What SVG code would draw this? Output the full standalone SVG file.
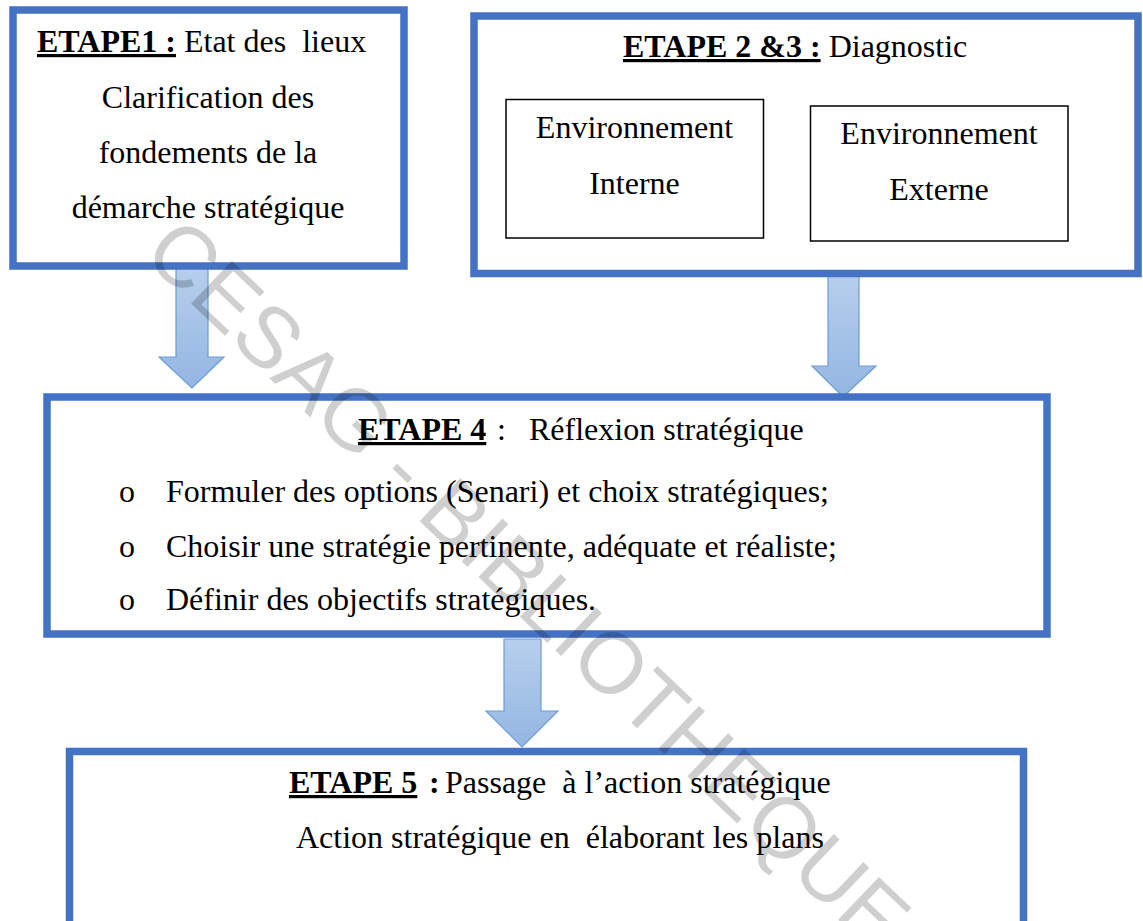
<svg xmlns="http://www.w3.org/2000/svg" width="1143" height="921" viewBox="0 0 1143 921">
<style>
.t{font-family:"Liberation Serif","Times New Roman",serif;font-size:32px;fill:#000;white-space:pre}
.b{font-weight:bold}
.u{text-decoration:underline}
.box{fill:#fff;stroke:#4472c4;stroke-width:7.5}
.inner{fill:#fff;stroke:#000;stroke-width:1.5}
.arrow{fill:url(#ag);stroke:#6c9cd6;stroke-width:1.2}
.wm{font-family:"Liberation Sans",Arial,sans-serif;font-size:86px;fill:#000;fill-opacity:0.19;white-space:pre}
</style>
<defs>
<linearGradient id="ag" x1="0" y1="0" x2="0" y2="1">
<stop offset="0" stop-color="#b7cfec"/>
<stop offset="1" stop-color="#93b6e2"/>
</linearGradient>
</defs>
<rect width="1143" height="921" fill="#fff"/>
<g id="connectors">
<path class="arrow" d="M176,268 L208,268 L208,357 L224,357 L192,388 L159,357 L176,357 Z"/>
<path class="arrow" d="M828,274 L859,274 L859,366 L876,366 L843,397 L812,366 L828,366 Z"/>
<path class="arrow" d="M504,639 L541,639 L541,711 L558,711 L522,747 L486,711 L504,711 Z"/>
</g>
<g id="etape1">
<rect class="box" x="13" y="10" width="391" height="256"/>
<text class="t" x="37" y="52"><tspan class="b u">ETAPE1 :</tspan> Etat des  lieux</text>
<text class="t" x="208" y="108" text-anchor="middle">Clarification des</text>
<text class="t" x="208" y="163" text-anchor="middle">fondements de la</text>
<text class="t" x="208" y="218" text-anchor="middle">démarche stratégique</text>
</g>
<g id="etape23">
<rect class="box" x="474" y="16" width="664" height="257.5"/>
<text class="t" x="623" y="57"><tspan class="b u">ETAPE 2 &amp;3 :</tspan> Diagnostic</text>
</g>
<g id="env-interne">
<rect class="inner" x="506" y="99.5" width="257.5" height="138.5"/>
<text class="t" x="634.5" y="138" text-anchor="middle">Environnement</text>
<text class="t" x="634.5" y="194" text-anchor="middle">Interne</text>
</g>
<g id="env-externe">
<rect class="inner" x="810.5" y="106" width="257.5" height="135"/>
<text class="t" x="939" y="144" text-anchor="middle">Environnement</text>
<text class="t" x="939" y="200" text-anchor="middle">Externe</text>
</g>
<g id="etape4">
<rect class="box" x="47" y="397" width="1000" height="237"/>
<text class="t" y="440"><tspan class="b u" x="358">ETAPE 4</tspan><tspan x="497">:</tspan><tspan x="529">Réflexion stratégique</tspan></text>
<text class="t" x="119" y="502">o</text>
<text class="t" x="166" y="502">Formuler des options (Senari) et choix stratégiques;</text>
<text class="t" x="119" y="557">o</text>
<text class="t" x="166" y="557">Choisir une stratégie pertinente, adéquate et réaliste;</text>
<text class="t" x="119" y="610">o</text>
<text class="t" x="166" y="610">Définir des objectifs stratégiques.</text>
</g>
<g id="etape5">
<rect class="box" x="69.5" y="751.5" width="954" height="200"/>
<text class="t" y="793"><tspan class="b u" x="289">ETAPE 5</tspan><tspan class="b" x="429">:</tspan><tspan x="445">Passage  à l’action stratégique</tspan></text>
<text class="t" x="296" y="848">Action stratégique en  élaborant les plans</text>
</g>
<text class="wm" transform="translate(141,256) rotate(43.6)">CESAG - BIBLIOTHEQUE</text>
</svg>
